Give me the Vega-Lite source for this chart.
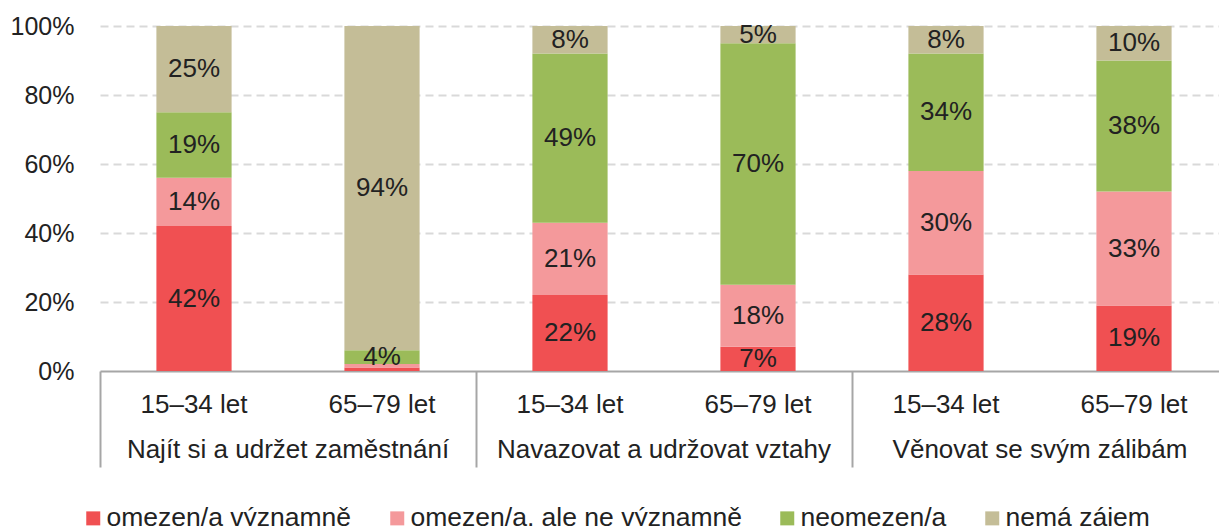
{
  "$schema": "https://vega.github.io/schema/vega-lite/v6.json",
  "width": 1119,
  "height": 345,
  "autosize": "none",
  "padding": {"left": 100, "top": 26, "right": 0, "bottom": 155},
  "background": "white",
  "config": {"view": {"stroke": null}, "font": "Liberation Sans"},
  "data": {
    "values": [
      {"x": "Najít si a udržet zaměstnání|15–34 let", "omezen/a významně": 0.42, "omezen/a, ale ne významně": 0.14, "neomezen/a": 0.19, "nemá zájem": 0.25},
      {"x": "Najít si a udržet zaměstnání|65–79 let", "omezen/a významně": 0.01, "omezen/a, ale ne významně": 0.01, "neomezen/a": 0.04, "nemá zájem": 0.94},
      {"x": "Navazovat a udržovat vztahy|15–34 let", "omezen/a významně": 0.22, "omezen/a, ale ne významně": 0.21, "neomezen/a": 0.49, "nemá zájem": 0.08},
      {"x": "Navazovat a udržovat vztahy|65–79 let", "omezen/a významně": 0.07, "omezen/a, ale ne významně": 0.18, "neomezen/a": 0.70, "nemá zájem": 0.05},
      {"x": "Věnovat se svým zálibám|15–34 let", "omezen/a významně": 0.28, "omezen/a, ale ne významně": 0.30, "neomezen/a": 0.34, "nemá zájem": 0.08},
      {"x": "Věnovat se svým zálibám|65–79 let", "omezen/a významně": 0.19, "omezen/a, ale ne významně": 0.33, "neomezen/a": 0.38, "nemá zájem": 0.10}
    ]
  },
  "transform": [
    {"fold": ["omezen/a významně", "omezen/a, ale ne významně", "neomezen/a", "nemá zájem"], "as": ["kat", "v"]},
    {"stack": "v", "groupby": ["x"], "as": ["v0", "v1"]}
  ],
  "layer": [
    {
      "mark": {"type": "bar", "width": {"band": 0.4}},
      "encoding": {
        "x": {
          "field": "x", "type": "nominal", "sort": null,
          "scale": {"paddingInner": 0, "paddingOuter": 0, "range": [0, 1128]},
          "axis": {
            "title": null, "orient": "bottom", "labelExpr": "split(datum.value, '|')[1]", "ticks": false, "tickSize": 0,
            "labelAngle": 0, "labelFontSize": 26, "labelColor": "#222222", "labelPadding": 33,
            "labelBaseline": "middle", "domainColor": "#a6a6a6", "domainWidth": 2, "grid": false, "labelLimit": 400
          }
        },
        "y": {
          "field": "v0", "type": "quantitative",
          "scale": {"domain": [0, 1], "nice": false},
          "axis": {
            "title": null, "values": [0, 0.2, 0.4, 0.6, 0.8, 1], "format": ".0%", "domain": false, "ticks": false,
            "labelFontSize": 25, "labelColor": "#222222", "labelPadding": 26,
            "grid": true, "gridColor": "#d9d9d9", "gridDash": [8, 5], "gridWidth": 2,
            "gridOpacity": {"condition": {"test": "datum.value === 0", "value": 0}, "value": 1}
          }
        },
        "y2": {"field": "v1"},
        "color": {
          "field": "kat", "type": "nominal",
          "scale": {
            "domain": ["omezen/a významně", "omezen/a, ale ne významně", "neomezen/a", "nemá zájem"],
            "range": ["#f05052", "#f4999b", "#9bbb59", "#c4bd97"]
          },
          "legend": {
            "title": null, "orient": "none", "legendX": -20, "legendY": 479, "direction": "horizontal",
            "symbolType": "square", "symbolSize": 196, "symbolStrokeWidth": 0, "symbolOpacity": 1,
            "labelFontSize": 26.5, "labelColor": "#222222", "labelOffset": 0, "columnPadding": 32,
            "labelLimit": 400, "padding": 0
          }
        }
      }
    },
    {
      "transform": [
        {"filter": "datum.v >= 0.03"},
        {"calculate": "(datum.v0 + datum.v1) / 2", "as": "mid"}
      ],
      "mark": {"type": "text", "fontSize": 26, "color": "#222222", "baseline": "middle"},
      "encoding": {
        "x": {
          "field": "x", "type": "nominal", "sort": null,
          "axis": {
            "title": null, "orient": "bottom",
            "values": ["Najít si a udržet zaměstnání|15–34 let", "Navazovat a udržovat vztahy|15–34 let", "Věnovat se svým zálibám|15–34 let"],
            "bandPosition": 0, "labelExpr": "split(datum.value, '|')[0]", "labelOffset": 94,
            "ticks": true, "tickSize": 96, "tickColor": "#a6a6a6", "tickWidth": 2, "domain": false,
            "labelPadding": -18, "labelBaseline": "middle", "labelAngle": 0, "labelFontSize": 26,
            "labelColor": "#222222", "labelLimit": 400, "grid": false
          }
        },
        "y": {"field": "mid", "type": "quantitative"},
        "text": {"field": "v", "type": "quantitative", "format": ".0%"}
      }
    }
  ],
  "resolve": {"axis": {"x": "independent"}}
}
